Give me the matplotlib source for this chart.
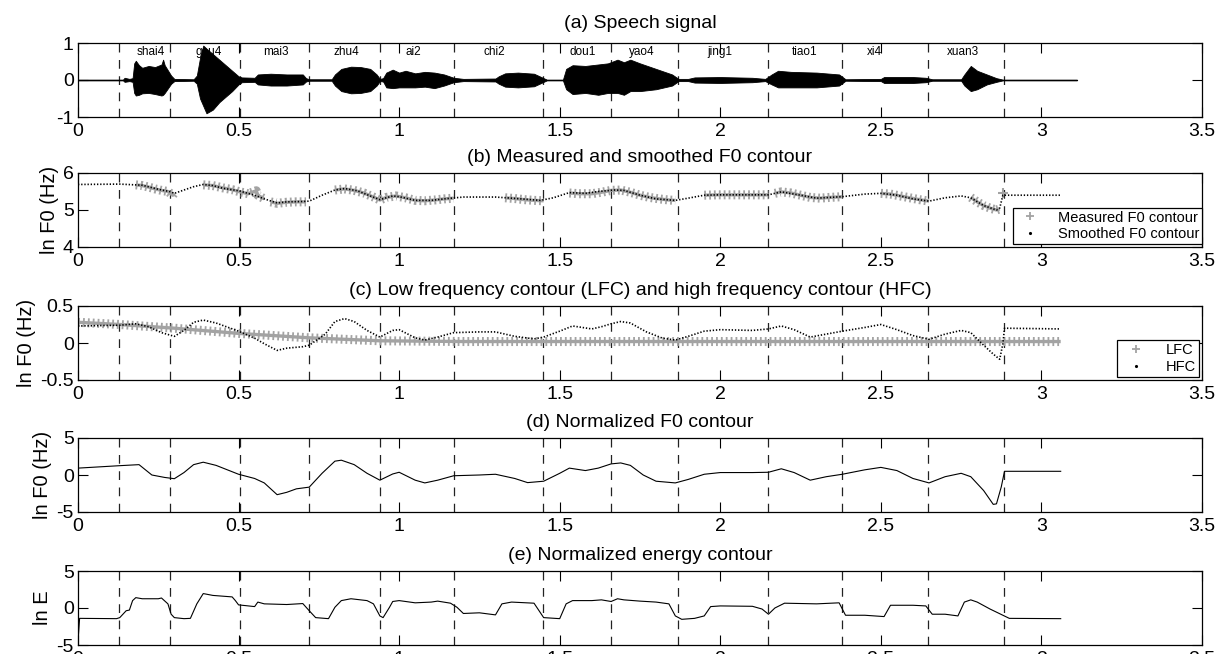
import numpy as np
import matplotlib
matplotlib.use("Agg")
import matplotlib.pyplot as plt
from matplotlib.lines import Line2D

plt.rcParams['font.family'] = ['Liberation Sans', 'DejaVu Sans']
plt.rcParams['axes.unicode_minus'] = False

# ---------------- data ----------------
boundaries = [0.129, 0.287, 0.503, 0.720, 0.939, 1.172, 1.448, 1.660, 1.869, 2.150, 2.380, 2.648, 2.882]
syllables = ["shai4", "gou4", "mai3", "zhu4", "ai2", "chi2", "dou1", "yao4", "jing1", "tiao1", "xi4", "xuan3"]
syllable_x = [0.227, 0.407, 0.616, 0.837, 1.043, 1.297, 1.573, 1.757, 2.0, 2.262, 2.48, 2.754]

# (a) speech signal envelope (upper / lower)
env_t = [0.00, 0.14, 0.145, 0.16, 0.17, 0.175, 0.18, 0.19, 0.20, 0.22, 0.24, 0.26, 0.265, 0.27, 0.29, 0.30,
         0.36, 0.37, 0.38, 0.39, 0.40, 0.42, 0.44, 0.46, 0.48, 0.50, 0.51, 0.55, 0.56, 0.60, 0.65, 0.70,
         0.71, 0.72, 0.79, 0.80, 0.82, 0.85, 0.88, 0.91, 0.93, 0.94, 0.95, 0.96, 0.98, 1.00, 1.02, 1.05,
         1.08, 1.11, 1.14, 1.17, 1.20, 1.30, 1.31, 1.33, 1.37, 1.42, 1.45, 1.46, 1.51, 1.52, 1.54, 1.58,
         1.62, 1.65, 1.68, 1.70, 1.72, 1.75, 1.80, 1.85, 1.87, 1.90, 1.92, 2.00, 2.10, 2.14, 2.16, 2.18,
         2.22, 2.30, 2.37, 2.39, 2.50, 2.51, 2.60, 2.64, 2.66, 2.75, 2.76, 2.78, 2.80, 2.83, 2.86, 2.88, 3.11]
env_hi = [0.01, 0.01, 0.06, 0.03, 0.05, 0.45, 0.52, 0.40, 0.33, 0.38, 0.35, 0.42, 0.55, 0.40, 0.12, 0.03,
          0.02, 0.12, 0.60, 0.93, 0.85, 0.70, 0.55, 0.40, 0.25, 0.10, 0.07, 0.06, 0.15, 0.17, 0.15, 0.15,
          0.05, 0.02, 0.02, 0.15, 0.30, 0.36, 0.35, 0.30, 0.15, 0.03, 0.05, 0.20, 0.28, 0.20, 0.25, 0.18,
          0.22, 0.20, 0.15, 0.06, 0.03, 0.04, 0.10, 0.18, 0.20, 0.17, 0.05, 0.01, 0.01, 0.30, 0.40, 0.38,
          0.42, 0.45, 0.55, 0.48, 0.55, 0.45, 0.30, 0.15, 0.03, 0.03, 0.07, 0.08, 0.06, 0.03, 0.15, 0.25,
          0.22, 0.20, 0.15, 0.02, 0.03, 0.08, 0.08, 0.06, 0.02, 0.02, 0.15, 0.38, 0.25, 0.15, 0.05, 0.01, 0.01]
env_lo = [-0.01, -0.01, -0.05, -0.03, -0.05, -0.35, -0.42, -0.40, -0.36, -0.35, -0.38, -0.42, -0.40, -0.35, -0.10, -0.03,
          -0.02, -0.10, -0.50, -0.70, -0.90, -0.80, -0.60, -0.45, -0.30, -0.12, -0.06, -0.05, -0.12, -0.15, -0.15, -0.12,
          -0.04, -0.02, -0.02, -0.15, -0.30, -0.36, -0.35, -0.30, -0.15, -0.03, -0.04, -0.20, -0.22, -0.20, -0.20, -0.20,
          -0.18, -0.22, -0.15, -0.06, -0.03, -0.04, -0.10, -0.18, -0.20, -0.17, -0.05, -0.01, -0.01, -0.25, -0.38, -0.35,
          -0.40, -0.35, -0.35, -0.40, -0.30, -0.30, -0.25, -0.15, -0.03, -0.03, -0.07, -0.08, -0.06, -0.03, -0.12, -0.20,
          -0.20, -0.20, -0.15, -0.02, -0.03, -0.08, -0.08, -0.06, -0.02, -0.02, -0.15, -0.30, -0.25, -0.12, -0.05, -0.01, -0.01]

# (b) smoothed F0 contour (ln Hz)
sm_t = [0.00, 0.13, 0.20, 0.25, 0.29, 0.30, 0.33, 0.36, 0.39, 0.42, 0.45, 0.50, 0.55, 0.58, 0.62, 0.65, 0.70,
        0.72, 0.76, 0.80, 0.83, 0.87, 0.91, 0.94, 0.98, 1.00, 1.05, 1.10, 1.15, 1.20, 1.30, 1.35, 1.44, 1.48,
        1.53, 1.58, 1.62, 1.67, 1.70, 1.75, 1.80, 1.86, 1.90, 1.95, 2.00, 2.10, 2.15, 2.19, 2.25, 2.30, 2.38,
        2.45, 2.50, 2.55, 2.60, 2.65, 2.70, 2.75, 2.78, 2.82, 2.86, 2.87, 2.88, 3.06]
sm_f0 = [5.69, 5.70, 5.67, 5.56, 5.49, 5.45, 5.54, 5.63, 5.69, 5.66, 5.59, 5.52, 5.40, 5.30, 5.19, 5.22, 5.23,
         5.24, 5.40, 5.54, 5.58, 5.52, 5.38, 5.28, 5.38, 5.36, 5.26, 5.26, 5.31, 5.35, 5.35, 5.32, 5.26, 5.33,
         5.47, 5.45, 5.50, 5.54, 5.53, 5.40, 5.30, 5.26, 5.32, 5.40, 5.41, 5.41, 5.41, 5.49, 5.40, 5.32, 5.36,
         5.43, 5.45, 5.40, 5.30, 5.24, 5.33, 5.38, 5.33, 5.12, 5.00, 5.05, 5.40, 5.40]

# (b) measured F0 contour (NaN = unvoiced gap)
nan = float('nan')
ms_t = [0.18, 0.20, 0.22, 0.24, 0.26, 0.28, 0.295, 0.30, nan,
        0.39, 0.42, 0.45, 0.48, 0.50, 0.53, 0.555, 0.56, 0.58, nan,
        0.60, 0.62, 0.65, 0.68, 0.71, nan,
        0.80, 0.83, 0.86, 0.89, 0.92, 0.94, 0.96, 0.99, 1.02, 1.05, 1.08, 1.11, 1.14, 1.17, nan,
        1.33, 1.36, 1.39, 1.42, 1.45, nan,
        1.53, 1.56, 1.60, 1.63, 1.66, 1.69, 1.72, 1.75, 1.78, 1.81, 1.84, 1.86, nan,
        1.95, 1.99, 2.03, 2.07, 2.11, 2.15, nan,
        2.17, 2.19, 2.22, 2.25, 2.28, 2.31, 2.34, 2.38, nan,
        2.50, 2.53, 2.56, 2.59, 2.62, 2.65, nan,
        2.78, 2.80, 2.82, 2.84, 2.86, 2.87]
ms_f0 = [5.68, 5.66, 5.62, 5.57, 5.53, 5.50, 5.40, 5.46, nan,
         5.68, 5.66, 5.60, 5.55, 5.50, 5.44, 5.52, 5.40, 5.30, nan,
         5.22, 5.18, 5.21, 5.22, 5.22, nan,
         5.54, 5.57, 5.53, 5.46, 5.35, 5.27, 5.34, 5.38, 5.33, 5.26, 5.25, 5.27, 5.30, 5.32, nan,
         5.33, 5.31, 5.28, 5.26, 5.25, nan,
         5.46, 5.44, 5.44, 5.48, 5.53, 5.54, 5.48, 5.40, 5.34, 5.30, 5.27, 5.26, nan,
         5.40, 5.41, 5.41, 5.41, 5.41, 5.41, nan,
         5.45, 5.49, 5.46, 5.40, 5.34, 5.32, 5.34, 5.36, nan,
         5.45, 5.43, 5.38, 5.33, 5.28, 5.24, nan,
         5.34, 5.22, 5.12, 5.05, 5.00, 5.03]
ms_single_t = [2.88]
ms_single_f0 = [5.45]

# (c) LFC and HFC
lfc_t = [0.00, 0.13, 0.30, 0.50, 0.72, 0.94, 1.20, 1.50, 2.00, 2.50, 3.06]
lfc = [0.28, 0.25, 0.20, 0.13, 0.07, 0.03, 0.02, 0.02, 0.02, 0.02, 0.02]
hfc_t = [0.00, 0.13, 0.18, 0.22, 0.26, 0.30, 0.33, 0.36, 0.39, 0.43, 0.50, 0.55, 0.58, 0.62, 0.65, 0.70, 0.72,
         0.77, 0.80, 0.83, 0.86, 0.90, 0.94, 0.98, 1.00, 1.05, 1.08, 1.12, 1.17, 1.25, 1.30, 1.36, 1.42, 1.45,
         1.50, 1.54, 1.60, 1.63, 1.66, 1.69, 1.72, 1.77, 1.82, 1.86, 1.90, 1.95, 2.00, 2.10, 2.15, 2.19, 2.23,
         2.28, 2.33, 2.38, 2.45, 2.50, 2.55, 2.60, 2.65, 2.70, 2.75, 2.78, 2.82, 2.85, 2.87, 2.88, 2.885, 3.06]
hfc = [0.23, 0.24, 0.26, 0.22, 0.14, 0.09, 0.17, 0.28, 0.31, 0.27, 0.16, 0.065, -0.01, -0.10, -0.07, -0.05, -0.03,
       0.12, 0.29, 0.33, 0.29, 0.17, 0.08, 0.17, 0.18, 0.07, 0.04, 0.08, 0.14, 0.15, 0.15, 0.09, 0.055, 0.08,
       0.16, 0.23, 0.19, 0.22, 0.26, 0.29, 0.27, 0.15, 0.065, 0.04, 0.09, 0.16, 0.18, 0.17, 0.19, 0.23, 0.18,
       0.08, 0.12, 0.16, 0.21, 0.25, 0.18, 0.10, 0.05, 0.12, 0.17, 0.14, -0.03, -0.15, -0.22, -0.01, 0.20, 0.19]

# (d) normalized F0
nf_t = [0.00, 0.13, 0.19, 0.23, 0.27, 0.30, 0.33, 0.36, 0.39, 0.43, 0.50, 0.55, 0.58, 0.62, 0.65, 0.68, 0.72,
        0.76, 0.80, 0.82, 0.86, 0.90, 0.94, 0.98, 1.00, 1.05, 1.08, 1.12, 1.17, 1.25, 1.30, 1.36, 1.40, 1.45,
        1.50, 1.53, 1.58, 1.62, 1.66, 1.69, 1.72, 1.76, 1.80, 1.86, 1.90, 1.95, 2.00, 2.10, 2.15, 2.19, 2.23,
        2.28, 2.33, 2.38, 2.45, 2.50, 2.55, 2.60, 2.65, 2.70, 2.75, 2.78, 2.82, 2.85, 2.86, 2.875, 2.885, 3.06]
nf0 = [0.93, 1.26, 1.40, 0.00, -0.33, -0.50, 0.33, 1.40, 1.73, 1.30, 0.10, -0.47, -1.07, -2.66, -2.34, -1.87, -1.64,
       0.23, 1.87, 2.00, 1.40, 0.23, -0.70, 0.14, 0.37, -0.70, -1.07, -0.70, -0.10, 0.00, 0.10, -0.47, -1.03, -0.84,
       0.23, 0.93, 0.60, 0.93, 1.50, 1.63, 1.30, 0.00, -0.84, -1.07, -0.60, 0.10, 0.33, 0.33, 0.37, 0.84, 0.33,
       -0.70, -0.23, 0.10, 0.70, 1.03, 0.60, -0.47, -1.07, -0.23, 0.23, -0.23, -2.10, -3.97, -3.90, -1.60, 0.50, 0.50]

# (e) normalized energy
ne_t = [0.000, 0.005, 0.12, 0.13, 0.15, 0.16, 0.17, 0.18, 0.20, 0.25, 0.26, 0.28, 0.29, 0.30, 0.33, 0.35, 0.37,
        0.39, 0.42, 0.48, 0.49, 0.50, 0.52, 0.55, 0.56, 0.58, 0.65, 0.70, 0.72, 0.74, 0.78, 0.80, 0.82, 0.85,
        0.90, 0.92, 0.94, 0.95, 0.97, 0.98, 1.00, 1.05, 1.10, 1.12, 1.16, 1.18, 1.20, 1.25, 1.30, 1.32, 1.35,
        1.42, 1.45, 1.50, 1.52, 1.54, 1.60, 1.63, 1.66, 1.68, 1.70, 1.75, 1.80, 1.84, 1.86, 1.88, 1.92, 1.95,
        1.97, 2.00, 2.10, 2.13, 2.15, 2.17, 2.20, 2.30, 2.37, 2.39, 2.45, 2.51, 2.53, 2.60, 2.64, 2.66, 2.70,
        2.74, 2.76, 2.78, 2.80, 2.84, 2.88, 2.90, 3.06]
ne = [-4.5, -1.40, -1.44, -1.30, -0.37, -0.28, 1.00, 1.40, 1.25, 1.25, 1.35, 0.56, -0.84, -1.30, -1.44, -1.40, 0.56,
      1.95, 1.70, 1.50, 1.00, 0.42, 0.33, 0.19, 0.80, 0.56, 0.47, 0.60, -0.37, -1.30, -1.44, 0.10, 1.00, 1.25,
      1.00, 0.56, -1.07, -1.30, 0.10, 0.88, 1.00, 0.70, 0.80, 0.93, 0.65, 0.10, -0.74, -0.65, -0.93, 0.56, 0.80,
      0.65, -1.30, -1.44, 0.56, 1.00, 1.00, 1.10, 0.88, 1.25, 1.10, 0.93, 0.80, 0.56, -1.07, -1.53, -1.40, -1.07,
      0.19, 0.28, 0.23, -0.14, -0.84, 0.00, 0.65, 0.56, 0.70, -0.98, -0.98, -1.16, 0.37, 0.37, 0.28, -0.84, -0.84,
      -1.07, 0.80, 1.10, 0.80, -0.14, -0.98, -1.40, -1.44]

titles = ["(a) Speech signal",
          "(b) Measured and smoothed F0 contour",
          "(c) Low frequency contour (LFC) and high frequency contour (HFC)",
          "(d) Normalized F0 contour",
          "(e) Normalized energy contour"]
ylabels = [None, "ln F0 (Hz)", "ln F0 (Hz)", "ln F0 (Hz)", "ln E"]
ylims = [(-1, 1), (4, 6), (-0.5, 0.5), (-5, 5), (-5, 5)]
yticks = [[-1, 0, 1], [4, 5, 6], [-0.5, 0, 0.5], [-5, 0, 5], [-5, 0, 5]]
xticks = [0, 0.5, 1, 1.5, 2, 2.5, 3, 3.5]
xticklabels = ["0", "0.5", "1", "1.5", "2", "2.5", "3", "3.5"]

# ---------------- figure ----------------
W, H = 1230, 654
fig = plt.figure(figsize=(W / 100, H / 100), dpi=100)
left_px, right_px = 78, 1202
tops = [43, 173, 306, 438, 571]
h_px = 74
axes = []
for tp in tops:
    ax = fig.add_axes([left_px / W, 1 - (tp + h_px) / H, (right_px - left_px) / W, h_px / H])
    axes.append(ax)

GRAY = '#a3a3a3'


def band(ax, x, y):
    # chain of '+' marks: horizontal stroke plus short perpendicular bars
    ax.plot(x, y, color=GRAY, lw=2.4, solid_capstyle='butt', zorder=2)
    ax.plot(x, y, color=GRAY, lw=6.5, dashes=(0.2, 0.34), dash_capstyle='butt', zorder=2)


for i, ax in enumerate(axes):
    ax.set_xlim(0, 3.5)
    ax.set_ylim(*ylims[i])
    ax.set_xticks(xticks)
    ax.set_xticklabels(xticklabels)
    ax.set_yticks(yticks[i])
    ax.set_yticklabels([("%g" % v) for v in yticks[i]])
    ax.tick_params(direction='in', top=True, right=True, length=7, width=0.8,
                   labelsize=14, pad=3)
    ax.tick_params(axis='x', pad=4.5)
    for s in ax.spines.values():
        s.set_linewidth(0.9)
    ax.set_title(titles[i], fontsize=14, pad=8 if i > 0 else 11)
    if ylabels[i]:
        ax.set_ylabel(ylabels[i], fontsize=14.5, labelpad=3)
    for b in boundaries:
        ax.axvline(b, color='#222222', lw=0.9, dashes=(7, 6), zorder=1)

# (a)
ax = axes[0]
ax.fill_between(env_t, env_lo, env_hi, color='black', lw=0.6, zorder=3)
ax.plot([env_t[0], env_t[-1]], [0, 0], color='black', lw=0.8, zorder=3)
for s, x in zip(syllables, syllable_x):
    ax.text(x, 0.76, s, fontsize=8.5, ha='center', va='center', zorder=4)

# (b)
ax = axes[1]
band(ax, ms_t, ms_f0)
ax.plot(ms_single_t, ms_single_f0, ls='none', marker='+', ms=7, mew=1.5, color=GRAY, zorder=2)
ax.plot(sm_t, sm_f0, color='black', lw=1.2, dashes=(0.8, 1.1), zorder=3)
h1 = Line2D([], [], ls='none', marker='+', ms=6, mew=1.3, color=GRAY)
h2 = Line2D([], [], ls='none', marker='.', ms=2.5, color='black')
leg = ax.legend([h1, h2], ["Measured F0 contour", "Smoothed F0 contour"], loc='lower right',
                bbox_to_anchor=(1.0, 0.035), fontsize=10.5, fancybox=False, framealpha=1,
                edgecolor='black', borderpad=0.2, handlelength=2.0, handletextpad=0.9,
                labelspacing=0.2, borderaxespad=0)
leg.get_frame().set_linewidth(0.9)

# (c)
ax = axes[2]
band(ax, lfc_t, lfc)
ax.plot(hfc_t, hfc, color='black', lw=1.2, dashes=(0.8, 1.1), zorder=3)
h1 = Line2D([], [], ls='none', marker='+', ms=6, mew=1.3, color=GRAY)
h2 = Line2D([], [], ls='none', marker='.', ms=2.5, color='black')
leg = ax.legend([h1, h2], ["LFC", "HFC"], loc='lower right',
                bbox_to_anchor=(0.997, 0.04), fontsize=10.5, fancybox=False, framealpha=1,
                edgecolor='black', borderpad=0.2, handlelength=2.2, handletextpad=0.9,
                labelspacing=0.2, borderaxespad=0)
leg.get_frame().set_linewidth(0.9)

# (d)
axes[3].plot(nf_t, nf0, color='black', lw=0.8, zorder=3)

# (e)
axes[4].plot(ne_t, ne, color='black', lw=0.8, zorder=3)

fig.savefig("out.png", dpi=100)
